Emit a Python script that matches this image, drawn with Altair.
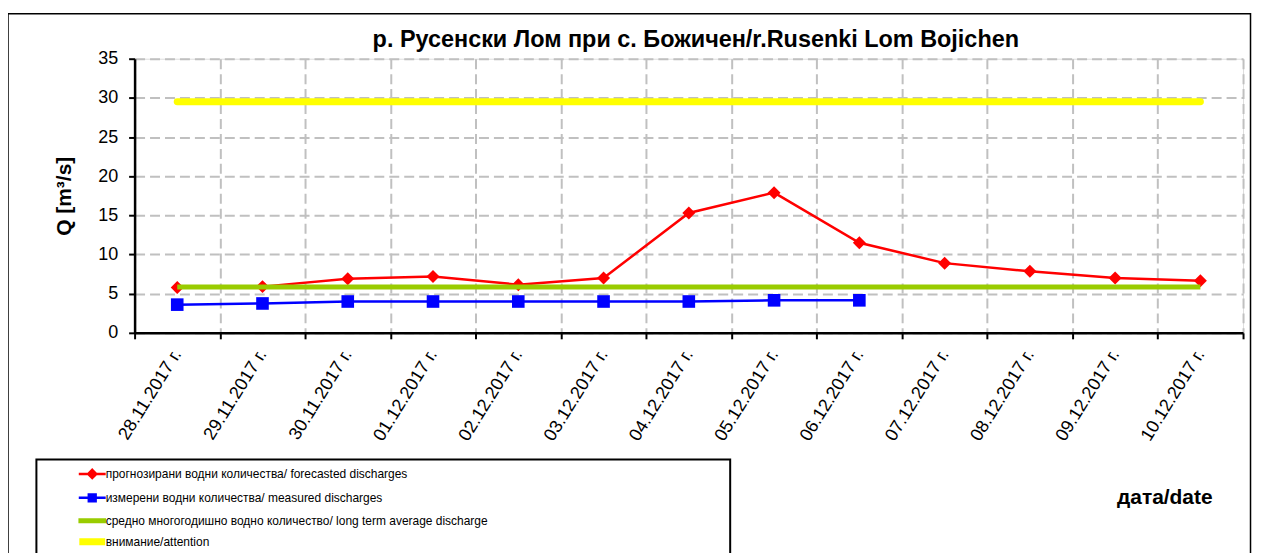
import altair as alt
import pandas as pd

dates = ["28.11.2017 г.", "29.11.2017 г.", "30.11.2017 г.", "01.12.2017 г.", "02.12.2017 г.",
         "03.12.2017 г.", "04.12.2017 г.", "05.12.2017 г.", "06.12.2017 г.", "07.12.2017 г.",
         "08.12.2017 г.", "09.12.2017 г.", "10.12.2017 г."]
forecast = [5.8, 5.9, 6.9, 7.2, 6.15, 7.0, 15.3, 17.9, 11.5, 8.9, 7.85, 7.0, 6.65]
measured = [3.6, 3.75, 4.0, 4.0, 4.0, 4.0, 4.0, 4.15, 4.15]
average = [5.85] * 13
attention = [29.5] * 13

names = ["прогнозирани водни количества/ forecasted discharges",
         "измерени водни количества/ measured discharges",
         "средно многогодишно водно количество/ long term average discharge",
         "внимание/attention"]
title_text = "р. Русенски Лом при с. Божичен/r.Rusenki Lom Bojichen"
colors = ["#ff0000", "#0000ff", "#99cc00", "#ffff00"]
widths = [2.5, 2.5, 5, 7]
shapes = ["M-1.5,0L1.5,0M0,-0.45L0.45,0L0,0.45L-0.45,0Z",
          "M-1.5,0L1.5,0M-0.38,-0.38L0.38,-0.38L0.38,0.38L-0.38,0.38Z",
          "M-1.4,-0.14L1.4,-0.14L1.4,0.14L-1.4,0.14Z",
          "M-1.3,-0.25L1.3,-0.25L1.3,0.25L-1.3,0.25Z"]

FONT = "Liberation Sans"

df_f = pd.DataFrame({"date": dates, "v": forecast})
df_m = pd.DataFrame({"date": dates[:len(measured)], "v": measured})
df_a = pd.DataFrame({"date": dates, "v": average})
df_t = pd.DataFrame({"date": dates, "v": attention})
df_leg = pd.DataFrame({"s": names})
df_one = pd.DataFrame({"t": [title_text]})

xenc = alt.X("date:N", sort=dates,
             scale=alt.Scale(type="band", domain=dates, paddingInner=0, paddingOuter=0),
             axis=alt.Axis(labelAngle=-58, labelAlign="right", labelBaseline="middle",
                           labelFontSize=18, labelFont=FONT, labelColor="black", labelPadding=12,
                           labelOverlap=False, tickBand="extent", tickSize=6, tickWidth=2,
                           tickColor="black", domainColor="black", domainWidth=2.5,
                           grid=True, gridColor="#c0c0c0", gridDash=[10, 5], gridWidth=2,
                           title="дата/date", titleX=1033, titleY=165, titleFontSize=21,
                           titleFont=FONT, titleFontWeight="bold", titleAlign="center",
                           titleBaseline="middle", titleColor="black"))
yenc = alt.Y("v:Q", scale=alt.Scale(domain=[0, 35], nice=False),
             axis=alt.Axis(values=list(range(0, 36, 5)), labelFontSize=18, labelFont=FONT,
                           labelColor="black", labelPadding=11, tickSize=6, tickWidth=2,
                           tickColor="black", domainColor="black", domainWidth=2.5,
                           grid=True, gridColor="#c0c0c0", gridDash=[10, 5], gridWidth=2,
                           title="Q [m³/s]", titleX=-70, titleY=137.5, titleAngle=270,
                           titleFontSize=21, titleFont=FONT, titleFontWeight="bold",
                           titleAlign="center", titleBaseline="middle", titleColor="black"))

base_f = alt.Chart(df_f).encode(x=xenc, y=yenc)
red_line = base_f.mark_line(color=colors[0], strokeWidth=widths[0])
red_pts = base_f.mark_point(shape="diamond", filled=True, color=colors[0], size=170, opacity=1)
base_m = alt.Chart(df_m).encode(x=xenc, y=yenc)
blue_line = base_m.mark_line(color=colors[1], strokeWidth=widths[1])
blue_pts = base_m.mark_point(shape="square", filled=True, color=colors[1], size=160, opacity=1)
green_line = alt.Chart(df_a).mark_line(color=colors[2], strokeWidth=widths[2]).encode(x=xenc, y=yenc)
yellow_line = alt.Chart(df_t).mark_line(color=colors[3], strokeWidth=widths[3],
                                         strokeCap="round").encode(x=xenc, y=yenc)

leg = alt.Legend(title=None, orient="none", legendX=-53, legendY=406, padding=0,
                 symbolSize=324, symbolOpacity=1, symbolStrokeWidth=2.5,
                 labelFont=FONT, labelFontSize=12,
                 labelColor="black", labelOffset=3, rowPadding=4, labelLimit=0)
legend_layer = alt.Chart(df_leg).mark_point(filled=True, opacity=0, size=324).encode(
    shape=alt.Shape("s:N", scale=alt.Scale(domain=names, range=shapes), legend=leg),
    fill=alt.Fill("s:N", scale=alt.Scale(domain=names, range=colors), legend=leg),
    stroke=alt.Stroke("s:N", scale=alt.Scale(domain=names, range=colors), legend=leg),
)

frame = alt.Chart(df_one).mark_rect(fill="transparent", stroke="black", strokeWidth=1.5).encode(
    x=alt.value(-127), x2=alt.value(1119.5), y=alt.value(-45), y2=alt.value(600))
legbox = alt.Chart(df_one).mark_rect(fill="transparent", stroke="black", strokeWidth=2).encode(
    x=alt.value(-98.5), x2=alt.value(597.5), y=alt.value(402), y2=alt.value(600))
title = alt.Chart(df_one).mark_text(fontSize=23.5, fontWeight="bold", font=FONT, color="black",
                                    align="center", baseline="alphabetic").encode(
    text="t:N", x=alt.value(563), y=alt.value(-11.5))

chart = alt.layer(frame, legbox, title, red_line, red_pts, blue_line, blue_pts, green_line,
                  yellow_line, legend_layer).properties(
    width=1112, height=275,
    padding={"left": 127, "top": 50, "right": 12, "bottom": 220},
    autosize=alt.AutoSizeParams(type="none"),
).configure_view(stroke="transparent").configure(background="white")

chart.save("out.html", embed_options={"renderer": "svg", "actions": False})
